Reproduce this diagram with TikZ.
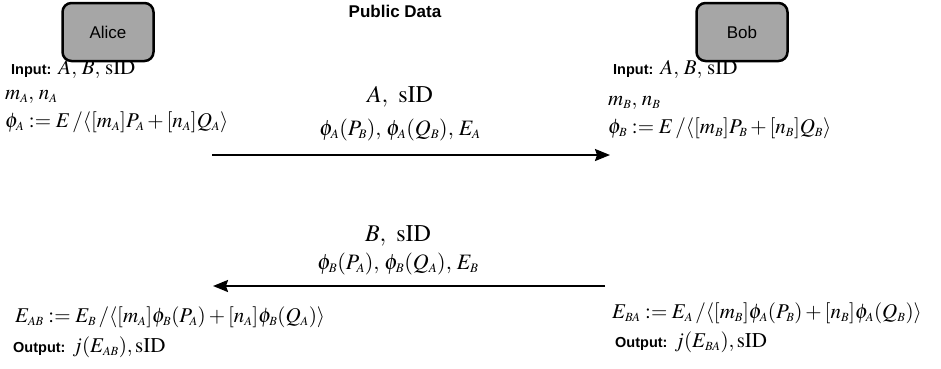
\documentclass[tikz,border=0pt]{standalone}
\usepackage{mathptmx}
\usepackage[no-math]{fontspec}
\newfontfamily\lsans{Liberation Sans}
\usepackage{tikz}
\usetikzlibrary{arrows.meta, positioning}
\definecolor{partygray}{rgb}{0.65, 0.65, 0.65}
\DeclareMathSizes{21}{21}{12.5}{10}
\DeclareMathSizes{22}{22}{13}{10}
\DeclareMathSizes{24}{24}{14}{11}
\newcommand{\inp}[1]{{\lsans\bfseries\fontsize{14.5}{17}\selectfont #1}}
\newcommand{\sid}{\mathrm{sID}}

\begin{document}
\begin{tikzpicture}[x=1pt, y=-1pt,
		party/.style={draw=black, line width=2.5pt, rounded corners=9pt, fill=partygray, minimum width=91pt, minimum height=58pt, font=\lsans\fontsize{17}{20}\selectfont},
		eq/.style={anchor=base west, inner sep=0pt, font=\fontsize{21}{24}\selectfont},
		msg/.style={inner sep=0pt, font=\fontsize{24}{28}\selectfont},
		msgsub/.style={inner sep=0pt, font=\fontsize{22}{26}\selectfont},
		flow/.style={line width=2pt, -{Stealth[length=15pt, width=12pt, inset=2pt]}}
	]
	\useasboundingbox (0,0) rectangle (941,368);
	\node[inner sep=0pt, font=\lsans\bfseries\fontsize{17}{20}\selectfont] (pub) at (395,11) {Public Data};
	\node[party] (alice) at (108,32) {Alice};
	\node[party] (bob) at (742,32) {Bob};
	% Alice side
	\node[eq] (inA) at (11,74) {\inp{Input:}\hspace{7pt}$A,\,B,\,\sid$};
	\node[eq] (mnA) at (5,99) {$m_A,\,n_A$};
	\node[eq] (phiA) at (5,127) {$\phi_A := E\,/\langle[m_A]P_A+[n_A]Q_A\rangle$};
	% Bob side
	\node[eq] (inB) at (613,74) {\inp{Input:}\hspace{7pt}$A,\,B,\,\sid$};
	\node[eq] (mnB) at (608,105) {$m_B,\,n_B$};
	\node[eq] (phiB) at (608,133) {$\phi_B := E\,/\langle[m_B]P_B+[n_B]Q_B\rangle$};
	% messages
	\coordinate (a1) at (212,155);
	\coordinate (b1) at (610,155);
	\draw[flow] (a1) -- (b1);
	\node[msg] (m1) at (400,97) {$A,\ \sid$};
	\node[msgsub, below=11pt of m1] (m1x) {$\phi_A(P_B),\,\phi_A(Q_B),\,E_A$};
	\coordinate (b2) at (605,286);
	\coordinate (a2) at (213,286);
	\draw[flow] (b2) -- (a2);
	\node[msg] (m2) at (398,236) {$B,\ \sid$};
	\node[msgsub, below=6pt of m2] (m2x) {$\phi_B(P_A),\,\phi_B(Q_A),\,E_B$};
	% results
	\node[eq] (eAB) at (15,322) {$E_{AB} := E_B\,/\langle[m_A]\phi_B(P_A)+[n_A]\phi_B(Q_A)\rangle$};
	\node[eq] (outA) at (13,352) {\inp{Output:}\hspace{7pt}$j(E_{AB}),\sid$};
	\node[eq] (eBA) at (612,318) {$E_{BA} := E_A\,/\langle[m_B]\phi_A(P_B)+[n_B]\phi_A(Q_B)\rangle$};
	\node[eq] (outB) at (615,347) {\inp{Output:}\hspace{7pt}$j(E_{BA}),\sid$};
\end{tikzpicture}
\end{document}
